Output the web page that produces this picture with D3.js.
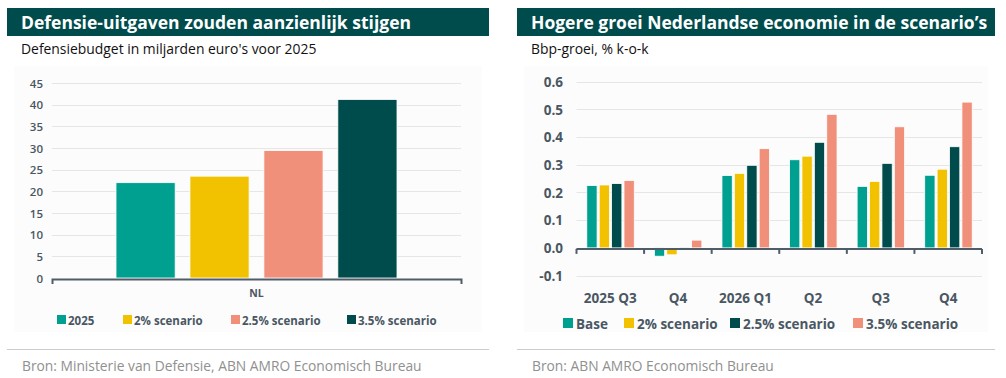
<!DOCTYPE html>
<html><head><meta charset="utf-8">
<script src="https://cdn.jsdelivr.net/npm/d3@7"></script>
<style>
html,body{margin:0;padding:0;background:#fff;}
svg{display:block;font-family:"Open Sans",sans-serif;}
</style></head>
<body><svg id="c" width="1006" height="378"></svg>
<script>
// Left chart data
const leftCategories = ["NL"];
const leftSeries = ["2025", "2% scenario", "2.5% scenario", "3.5% scenario"];
const leftValues = [22.0, 23.5, 29.4, 41.2];
const leftColors = ["#00a090", "#f2c100", "#f0907a", "#004c4c"];
const leftTicks = [0, 5, 10, 15, 20, 25, 30, 35, 40, 45];

// Right chart data
const rightCategories = ["2025 Q3", "Q4", "2026 Q1", "Q2", "Q3", "Q4"];
const rightSeries = ["Base", "2% scenario", "2.5% scenario", "3.5% scenario"];
const rightBase = [0.225, -0.030, 0.261, 0.318, 0.222, 0.262];
const right2 = [0.227, -0.025, 0.269, 0.331, 0.240, 0.284];
const right25 = [0.232, -0.007, 0.298, 0.381, 0.305, 0.365];
const right35 = [0.243, 0.028, 0.358, 0.482, 0.437, 0.526];
const rightColors = ["#00a090", "#f2c100", "#004c4c", "#f0907a"];
const rightTicks = [-0.1, 0.0, 0.1, 0.2, 0.3, 0.4, 0.5, 0.6];

const svg = d3.select("#c");
const axisCol = "#4f5d68";
const labelCol = "#4a5763";
const gridCol = "#e6e6e6";

function panel(x0, x1, title, subtitle, source) {
  svg.append("rect").attr("x", x0).attr("y", 8).attr("width", x1 - x0).attr("height", 28).attr("fill", "#004c4c");
  svg.append("text").attr("x", x0 + 14).attr("y", 28.5).attr("fill", "#fff")
    .attr("font-size", 17.5).attr("font-weight", 700).text(title);
  svg.append("text").attr("x", x0 + 14).attr("y", 54).attr("fill", "#111")
    .attr("font-size", 13.9).text(subtitle);
  svg.append("rect").attr("x", x0 + 7).attr("y", 66).attr("width", x1 - x0 - 14).attr("height", 266).attr("fill", "#fcfcfc");
  svg.append("line").attr("x1", x0).attr("x2", x1).attr("y1", 349.5).attr("y2", 349.5).attr("stroke", "#cccccc").attr("stroke-width", 1);
  svg.append("text").attr("x", x0 + 15).attr("y", 370.5).attr("fill", "#909090")
    .attr("font-size", 13.8).text(source);
}

panel(7, 489, "Defensie-uitgaven zouden aanzienlijk stijgen", "Defensiebudget in miljarden euro's voor 2025", "Bron: Ministerie van Defensie, ABN AMRO Economisch Bureau");
panel(517, 995, "Hogere groei Nederlandse economie in de scenario\u2019s", "Bbp-groei, % k-o-k", "Bron: ABN AMRO Economisch Bureau");

// ---------- Left chart ----------
{
  const xL = 52, xR = 461;
  const y = d3.scaleLinear().domain([0, 45]).range([278, 83]);
  const x0 = d3.scaleBand().domain(leftCategories).range([xL, xR]).paddingInner(0).paddingOuter(0);
  const x1 = d3.scaleBand().domain(leftSeries).range([116, 397]).paddingInner(0.2).paddingOuter(0);
  const g = svg.append("g");
  g.selectAll("line.grid").data(leftTicks.slice(1)).join("line")
    .attr("x1", xL).attr("x2", xR).attr("y1", d => Math.round(y(d)) + 0.5).attr("y2", d => Math.round(y(d)) + 0.5)
    .attr("stroke", gridCol);
  const yAxis = g.append("g").attr("transform", `translate(${xL - 9},0)`)
    .call(d3.axisLeft(y).tickValues(leftTicks).tickSize(0).tickPadding(0).tickFormat(d3.format("d")));
  yAxis.select(".domain").remove();
  yAxis.selectAll("text").attr("fill", labelCol).attr("font-size", 11.5).attr("font-weight", 600)
    .attr("font-family", "'Open Sans',sans-serif").attr("dy", "0.35em");
  g.selectAll("rect.bar").data(leftValues).join("rect")
    .attr("x", (d, i) => x1(leftSeries[i])).attr("width", x1.bandwidth())
    .attr("y", d => y(d)).attr("height", d => y(0) - y(d))
    .attr("fill", (d, i) => leftColors[i]).attr("stroke", "#fff").attr("stroke-width", 0.8);
  const xAxis = g.append("g").attr("transform", `translate(0,${y(0) + 1})`)
    .call(d3.axisBottom(x0).tickSizeOuter(5).tickSizeInner(0).tickPadding(11));
  xAxis.select(".domain").attr("stroke", axisCol).attr("stroke-width", 2);
  xAxis.selectAll("text").attr("fill", labelCol).attr("font-size", 10.5).attr("font-weight", 700)
    .attr("font-family", "'Open Sans',sans-serif");
  // legend
  const lx = [57, 123, 231, 347];
  const lg = g.selectAll("g.leg").data(leftSeries).join("g").attr("transform", (d, i) => `translate(${lx[i]},320)`);
  lg.append("rect").attr("x", 0).attr("y", -5).attr("width", 9).attr("height", 9).attr("fill", (d, i) => leftColors[i]);
  lg.append("text").attr("x", 11).attr("y", 4.5).attr("fill", labelCol).attr("font-size", 11.5).attr("font-weight", 700).text(d => d);
}

// ---------- Right chart ----------
{
  const xL = 576.5, xR = 982;
  const y = d3.scaleLinear().domain([-0.1, 0.6]).range([275.6, 81.6]);
  const x0 = d3.scaleBand().domain(d3.range(rightCategories.length)).range([xL, xR]);
  const x1 = d3.scaleBand().domain(rightSeries).range([-23.5, 24]).paddingInner(0.17).paddingOuter(0);
  const series = [rightBase, right2, right25, right35];
  const g = svg.append("g");
  g.selectAll("line.grid").data(rightTicks).join("line")
    .attr("x1", xL).attr("x2", xR).attr("y1", d => Math.round(y(d)) + 0.5).attr("y2", d => Math.round(y(d)) + 0.5)
    .attr("stroke", gridCol);
  const yAxis = g.append("g").attr("transform", `translate(563,0)`)
    .call(d3.axisLeft(y).tickValues(rightTicks).tickSize(0).tickPadding(0).tickFormat(d3.format(".1f")));
  yAxis.select(".domain").remove();
  yAxis.selectAll("text").attr("fill", labelCol).attr("font-size", 13.5).attr("font-weight", 700)
    .attr("font-family", "'Open Sans',sans-serif").attr("dy", "0.35em").text(d => d3.format(".1f")(d).replace("\u2212", "-"));
  const groups = g.selectAll("g.grp").data(rightCategories).join("g")
    .attr("transform", (d, i) => `translate(${x0(i) + x0.bandwidth() / 2},0)`);
  groups.selectAll("rect").data((d, i) => series.map((s, k) => ({ k, v: s[i] }))).join("rect")
    .attr("x", d => x1(rightSeries[d.k])).attr("width", x1.bandwidth())
    .attr("y", d => y(Math.max(0, d.v))).attr("height", d => Math.abs(y(d.v) - y(0)))
    .attr("fill", d => rightColors[d.k]).attr("stroke", "#fff").attr("stroke-width", 0.8);
  // axis line with ticks between categories
  const axisY = y(0) + 1;
  g.append("line").attr("x1", xL).attr("x2", xR).attr("y1", axisY).attr("y2", axisY).attr("stroke", axisCol).attr("stroke-width", 2);
  const bounds = d3.range(rightCategories.length + 1).map(i => i === rightCategories.length ? xR : x0(i));
  g.selectAll("line.tk").data(bounds).join("line")
    .attr("x1", d => d).attr("x2", d => d).attr("y1", axisY).attr("y2", axisY + 5).attr("stroke", axisCol).attr("stroke-width", 2);
  g.selectAll("text.xl").data(rightCategories).join("text")
    .attr("x", (d, i) => x0(i) + x0.bandwidth() / 2).attr("y", 303).attr("text-anchor", "middle")
    .attr("fill", labelCol).attr("font-size", 13.5).attr("font-weight", 700).text(d => d);
  const lx = [563, 624, 730, 853];
  const lg = g.selectAll("g.leg").data(rightSeries).join("g").attr("transform", (d, i) => `translate(${lx[i]},324)`);
  lg.append("rect").attr("x", 0).attr("y", -6).attr("width", 10).attr("height", 10).attr("fill", (d, i) => rightColors[i]);
  lg.append("text").attr("x", 13).attr("y", 5).attr("fill", labelCol).attr("font-size", 13.5).attr("font-weight", 700).text(d => d);
}
</script></body></html>
